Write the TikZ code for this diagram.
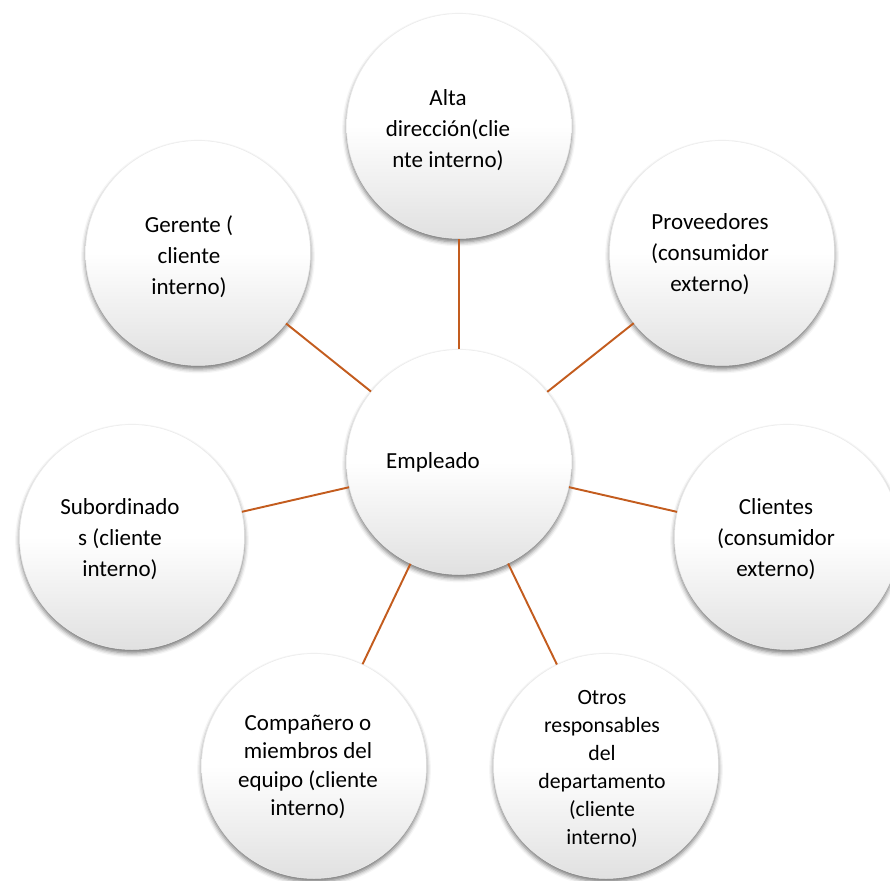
\documentclass[tikz,border=0pt]{standalone}
\usepackage{fontspec}
\setmainfont{Carlito}
\usetikzlibrary{shadows.blur}
\definecolor{linea}{RGB}{195,92,30}

\begin{document}
\begin{tikzpicture}[x=0.02cm, y=-0.02cm,
        circulo/.style={circle, minimum size=4.5cm, draw=black!8, line width=0.3pt,
            top color=white, bottom color=black!12, middle color=white,
            blur shadow={shadow xshift=0pt, shadow yshift=-2pt,
                shadow blur radius=2.5pt, shadow opacity=55}},
        texto/.style={align=center, font=\fontsize{13.1}{17.6}\selectfont},
        enlace/.style={draw=linea, line width=1.1pt}
    ]
    \useasboundingbox (0,0) rectangle (890,880);

    \node[circulo] (empleado) at (459,462) {};
    \node[circulo] (alta) at (459,126) {};
    \node[circulo] (proveedores) at (722,253) {};
    \node[circulo] (clientes) at (787,537) {};
    \node[circulo] (otros) at (606,766) {};
    \node[circulo] (companero) at (314,766) {};
    \node[circulo] (subordinados) at (132,537) {};
    \node[circulo] (gerente) at (198,253) {};

    \foreach \n in {alta, proveedores, clientes, otros, companero, subordinados, gerente}
        \draw[enlace] (empleado) -- (\n);

    \node[texto] (t-empleado) at (433,462) {Empleado};
    \node[texto] (t-alta) at (448,130) {Alta\\dirección(clie\\nte interno)};
    \node[texto] (t-proveedores) at (710,254) {Proveedores\\(consumidor\\externo)};
    \node[texto] (t-clientes) at (776,539) {Clientes\\(consumidor\\externo)};
    \node[texto, font=\fontsize{13.1}{16.2}\selectfont] (t-companero) at (308,767)
        {Compañero o\\miembros del\\equipo (cliente\\interno)};
    \node[texto, font=\fontsize{12.4}{15.9}\selectfont] (t-otros) at (602,769)
        {Otros\\responsables\\del\\departamento\\(cliente\\interno)};
    \node[texto] (t-subordinados) at (120,539) {Subordinado\\s (cliente\\interno)};
    \node[texto] (t-gerente) at (189,257) {Gerente (\\cliente\\interno)};
\end{tikzpicture}
\end{document}
